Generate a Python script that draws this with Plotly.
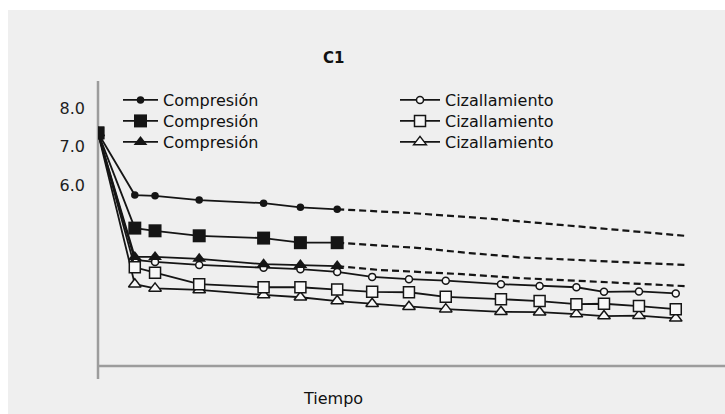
import plotly.graph_objects as go

# Sampling times (arbitrary time units along "Tiempo")
t_comp = [0, 1, 1.55, 2.75, 4.5, 5.5, 6.5]
t_ciz = [0, 1, 1.55, 2.75, 4.5, 5.5, 6.5, 7.45, 8.45, 9.45, 10.95, 12, 13, 13.75, 14.7, 15.7]

# Compression series (measured)
comp_circle = [7.36, 5.74, 5.72, 5.61, 5.53, 5.42, 5.37]
comp_square = [7.36, 4.88, 4.81, 4.68, 4.62, 4.50, 4.50]
comp_triangle = [7.36, 4.13, 4.13, 4.08, 3.94, 3.92, 3.89]

# Compression projections (dashed continuation)
t_proj_circle = [6.5, 8.55, 10.72, 13.63, 15.94]
proj_circle = [5.37, 5.27, 5.12, 4.88, 4.68]
t_proj_square = [6.5, 8.74, 10.1, 11.45, 14.17, 15.94]
proj_square = [4.50, 4.36, 4.23, 4.12, 4.00, 3.92]
t_proj_triangle = [6.5, 7.65, 9.9, 11.45, 13.63, 15.94]
proj_triangle = [3.89, 3.79, 3.68, 3.58, 3.48, 3.37]

# Shear series (measured)
ciz_circle = [7.36, 4.05, 4.00, 3.92, 3.85, 3.81, 3.74, 3.61, 3.55, 3.51,
              3.42, 3.37, 3.34, 3.22, 3.23, 3.18]
ciz_square = [7.36, 3.86, 3.72, 3.42, 3.34, 3.34, 3.28, 3.22, 3.21, 3.09,
              3.03, 2.98, 2.90, 2.91, 2.85, 2.77]
ciz_triangle = [7.36, 3.42, 3.31, 3.27, 3.14, 3.08, 2.98, 2.91, 2.83, 2.77,
                2.70, 2.69, 2.64, 2.59, 2.60, 2.53]

y_ticks = [6, 7, 8]
y_tick_text = ["6.0", "7.0", "8.0"]

label_comp = "Compresión"
label_ciz = "Cizallamiento"

INK = "#151515"
OPEN_FILL = "#f7f7f7"
FONT = "DejaVu Sans"

L, R, T, B = 98, 0, 81, 48
W, H = 725, 414
pw, ph = W - L - R, H - T - B


def px_x(p):
    return (p - L) / pw


def px_y(p):
    return (H - B - p) / ph


fig = go.Figure()


def proj(tx, vy):
    fig.add_trace(go.Scatter(
        x=tx, y=vy, mode="lines", showlegend=False, hoverinfo="skip",
        line=dict(color=INK, width=2.2, dash="7px,4px"),
    ))


proj(t_proj_circle, proj_circle)
proj(t_proj_square, proj_square)
proj(t_proj_triangle, proj_triangle)


def series(tx, vy, name, legend_id, symbol, size, filled):
    marker = dict(symbol=symbol, size=size)
    if filled:
        marker["color"] = INK
    else:
        marker["color"] = OPEN_FILL
        marker["line"] = dict(color=INK, width=1.5)
    fig.add_trace(go.Scatter(
        x=tx, y=vy, mode="lines+markers", name=name, legend=legend_id,
        line=dict(color=INK, width=1.8), marker=marker,
    ))


# Shear series: open markers (drawn first, underneath)
series(t_ciz, ciz_triangle, label_ciz, "legend6", "triangle-up", 11, False)
series(t_ciz, ciz_circle, label_ciz, "legend4", "circle", 7, False)
series(t_ciz, ciz_square, label_ciz, "legend5", "square", 11, False)

# Compression series: filled markers
series(t_comp, comp_circle, label_comp, "legend", "circle", 7.5, True)
series(t_comp, comp_triangle, label_comp, "legend3", "triangle-up", 12, True)
series(t_comp, comp_square, label_comp, "legend2", "square", 13, True)

AXIS = "#9c9c9c"


def legend_box(x_px, y_px, itemwidth):
    return dict(
        x=px_x(x_px), y=px_y(y_px), xanchor="left", yanchor="middle",
        font=dict(family=FONT, size=16, color="#111"),
        bgcolor="rgba(0,0,0,0)", borderwidth=0, itemwidth=itemwidth,
    )


fig.update_layout(
    width=W, height=H,
    margin=dict(l=L, r=R, t=T, b=B),
    paper_bgcolor="white",
    plot_bgcolor="rgba(0,0,0,0)",
    font=dict(family=FONT, size=16, color="#111"),
    showlegend=True,
    legend=legend_box(118, 100, 35),
    legend2=legend_box(118, 121, 35),
    legend3=legend_box(118, 142, 35),
    legend4=legend_box(395, 100, 40),
    legend5=legend_box(395, 121, 40),
    legend6=legend_box(395, 142, 40),
    xaxis=dict(range=[0, pw / 36.8], showline=False, showgrid=False,
               zeroline=False, showticklabels=False, ticks=""),
    yaxis=dict(range=[8 - (H - B - 108.3) / 38.4, 8 + (108.3 - T) / 38.4],
               showline=False, showgrid=False, zeroline=False,
               tickvals=y_ticks, ticktext=y_tick_text, ticks="",
               ticklabelstandoff=12,
               tickfont=dict(family=FONT, size=16, color="#1e1e1e")),
    shapes=[
        dict(type="rect", xref="paper", yref="paper", layer="below",
             x0=px_x(8), x1=1.0, y0=px_y(H + 5), y1=px_y(10),
             fillcolor="#efefef", line=dict(width=0)),
        dict(type="line", xref="paper", yref="paper", layer="below",
             x0=0, x1=0, y0=px_y(379), y1=1,
             line=dict(color=AXIS, width=2.5)),
        dict(type="line", xref="paper", yref="paper", layer="below",
             x0=0, x1=1, y0=0, y1=0,
             line=dict(color=AXIS, width=2.5)),
    ],
    annotations=[
        dict(text="<b>C1</b>", xref="paper", yref="paper",
             x=px_x(333), y=px_y(58), xanchor="center", yanchor="middle",
             showarrow=False, font=dict(family=FONT, size=15, color="#111")),
        dict(text="Tiempo", xref="paper", yref="paper",
             x=px_x(333), y=px_y(398), xanchor="center", yanchor="middle",
             showarrow=False, font=dict(family=FONT, size=16, color="#111")),
    ],
)

fig.write_html("out.html")
